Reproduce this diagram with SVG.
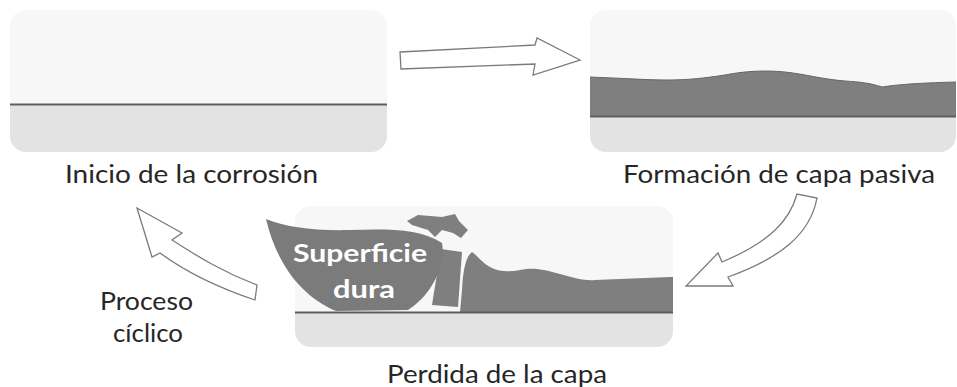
<svg xmlns="http://www.w3.org/2000/svg" width="957" height="387" viewBox="0 0 957 387">
  <style>
    .label { font-family: Lato, "Open Sans", "Liberation Sans", sans-serif; font-size: 25px; fill: #262626; }
    .inner { font-family: Lato, "Open Sans", "Liberation Sans", sans-serif; font-size: 25px; font-weight: bold; fill: #ffffff; }
    .sky { fill: #f7f7f7; }
    .base { fill: #e3e3e3; }
    .film { fill: #7f7f7f; }
    .edge { stroke: #5e5e5e; stroke-width: 2; fill: none; }
    .arrow { fill: #ffffff; stroke: #7a7a7a; stroke-width: 1.3; stroke-linejoin: miter; }
  </style>
  <defs>
    <clipPath id="clip1"><rect x="10" y="10" width="377" height="142" rx="16"/></clipPath>
    <clipPath id="clip2"><rect x="590" y="10" width="366" height="142" rx="16"/></clipPath>
    <clipPath id="clip3"><rect x="295" y="206" width="378" height="141" rx="16"/></clipPath>
  </defs>
  <rect width="957" height="387" fill="#ffffff"/>

  <!-- Stage 1: bare metal -->
  <g id="inicio">
    <g clip-path="url(#clip1)">
      <rect class="sky" x="10" y="10" width="377" height="142"/>
      <rect class="base" x="10" y="105" width="377" height="47"/>
      <line class="edge" x1="10" y1="104.5" x2="387" y2="104.5"/>
    </g>
    <text class="label" x="65" y="183" textLength="253" lengthAdjust="spacingAndGlyphs">Inicio de la corrosión</text>
  </g>

  <!-- Stage 2: passive film grows -->
  <g id="formacion">
    <g clip-path="url(#clip2)">
      <rect class="sky" x="590" y="10" width="366" height="142"/>
      <rect class="base" x="590" y="117" width="366" height="35"/>
      <path class="film" d="M588,77 C620,78 645,80 665,80 C690,80 705,78 725,75 C745,71 765,70 785,72 C805,74 820,79 845,81 C860,82 870,83 882,87 C895,85 915,83 957,82 L957,117 L588,117 Z"/>
      <path d="M588,77 C620,78 645,80 665,80 C690,80 705,78 725,75 C745,71 765,70 785,72 C805,74 820,79 845,81 C860,82 870,83 882,87 C895,85 915,83 957,82" fill="none" stroke="#666" stroke-width="1"/>
      <line class="edge" x1="590" y1="116.5" x2="957" y2="116.5"/>
    </g>
    <text class="label" x="623" y="183" textLength="312" lengthAdjust="spacingAndGlyphs">Formación de capa pasiva</text>
  </g>

  <!-- Stage 3: film removed by the hard surface -->
  <g id="perdida">
    <g clip-path="url(#clip3)">
      <rect class="sky" x="295" y="206" width="378" height="141"/>
      <rect class="base" x="295" y="312" width="378" height="35"/>
      <path class="film" d="M460,312 L462,290 C463,270 466,256 472,252 C478,256 483,264 492,268 C500,272 510,272 520,270 C535,267 545,270 560,274 C575,278 585,281 595,280 C620,279 645,278 670,277 L673,277 L673,312 Z"/>
      <line class="edge" x1="295" y1="312.5" x2="673" y2="312.5"/>
    </g>
    <!-- loosened fragments -->
    <path class="film" d="M441,249 L462,252 L458,307 L432,305 Z"/>
    <path class="film" d="M407,221 L418,215 L442,217 L455,214 L459,221 L468,230 L461,238 L453,233 L442,230 L435,237 L428,230 L412,225 Z"/>
  </g>

  <!-- Hard surface scraping the film -->
  <g id="superficie">
    <path fill="#7b7b7b" d="M266,219 C285,227 315,231 350,230 C385,229 420,228 442,243 C446,265 432,295 408,310 L336,311 C300,296 276,262 266,219 Z"/>
    <text class="inner" x="293" y="262" textLength="134" lengthAdjust="spacingAndGlyphs">Superficie</text>
    <text class="inner" x="333" y="298" textLength="62" lengthAdjust="spacingAndGlyphs">dura</text>
  </g>

  <g id="ciclo">
    <text class="label" x="100" y="310" textLength="93" lengthAdjust="spacingAndGlyphs">Proceso</text>
    <text class="label" x="113" y="342" textLength="70" lengthAdjust="spacingAndGlyphs">cíclico</text>
  </g>

  <text class="label" x="387" y="383" textLength="220" lengthAdjust="spacingAndGlyphs">Perdida de la capa</text>

  <!-- Block arrows between the stages -->
  <g id="connectors">
    <path class="arrow" d="M400,52 L535,45 L537,38 L580,60 L533,75 L535,64 L401,69 Z"/>
    <path class="arrow" d="M797,194 C790,220 770,242 722,262 L718,253 L686,286 L733,286 L728,277 C780,258 810,235 817,198 Z"/>
    <path class="arrow" d="M137,208 L182,233 L172,240 C200,258 225,273 257,285 L255,300 C225,290 190,275 160,253 L152,257 Z"/>
  </g>
</svg>
